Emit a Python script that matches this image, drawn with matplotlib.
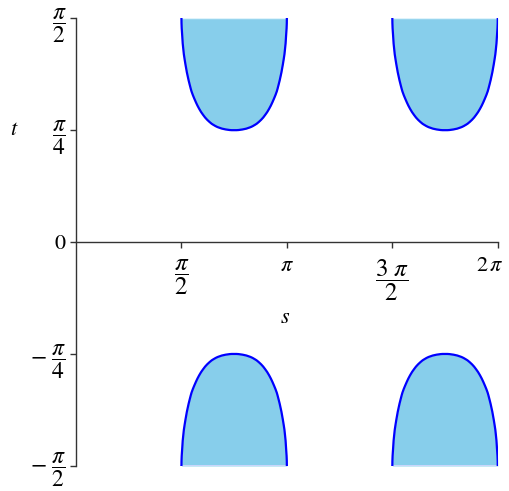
import matplotlib
matplotlib.use("Agg")
import matplotlib.pyplot as plt
import matplotlib.transforms as mtransforms
import numpy as np

plt.rcParams['mathtext.fontset'] = 'stix'
plt.rcParams['font.family'] = ['Liberation Serif', 'DejaVu Serif']

# ----------------------------
# Data: left half of one lobe of the boundary curve
# s from pi/2 to 3pi/4, the right half is its mirror image
# ----------------------------
half_s = [1.571, 1.572, 1.575, 1.583, 1.590, 1.599, 1.607, 1.618, 1.630, 1.652,
          1.678, 1.694, 1.710, 1.721, 1.741, 1.762, 1.787, 1.809, 1.835, 1.864,
          1.894, 1.923, 1.954, 1.988, 2.021, 2.041, 2.077, 2.098, 2.118, 2.143,
          2.173, 2.202, 2.231, 2.261, 2.290, 2.320, 2.356]
half_t = [1.571, 1.536, 1.500, 1.444, 1.393, 1.352, 1.317, 1.283, 1.248, 1.190,
          1.134, 1.104, 1.075, 1.057, 1.031, 1.007, 0.980, 0.958, 0.935, 0.912,
          0.892, 0.874, 0.858, 0.843, 0.830, 0.824, 0.814, 0.809, 0.805, 0.801,
          0.796, 0.793, 0.790, 0.788, 0.786, 0.785, 0.785]
lobe_shifts = [0.0, np.pi]   # second pair of lobes sits one period to the right

x_ticks = [np.pi / 2, np.pi, 3 * np.pi / 2, 2 * np.pi]
x_labels = [r'$\dfrac{\pi}{2}$', r'$\pi$', r'$\dfrac{3\ \pi}{2}$', r'$2\,\pi$']
y_ticks = [-np.pi / 2, -np.pi / 4, 0, np.pi / 4, np.pi / 2]
y_labels = [r'$-\ \dfrac{\pi}{2}$', r'$-\ \dfrac{\pi}{4}$', r'$0$',
            r'$\dfrac{\pi}{4}$', r'$\dfrac{\pi}{2}$']

fill_col = '#87CEEB'
line_col = '#0000FF'

# полная кривая одного "лепестка"
hs = np.array(half_s)
ht = np.array(half_t)
s0 = np.concatenate([hs, (1.5 * np.pi - hs)[::-1][1:]])
t0 = np.concatenate([ht, ht[::-1][1:]])

# ----------------------------
# Plot
# ----------------------------
fig = plt.figure(figsize=(5.10, 4.91), dpi=100)
ax = fig.add_axes([0.149, 0.051, 0.827, 0.912])

for sh in lobe_shifts:
    s = s0 + sh
    # upper lobe
    ax.fill_between(s, t0, np.pi / 2, color=fill_col, lw=0)
    ax.plot([s[0], s[-1]], [np.pi / 2, np.pi / 2], color='#dff3fb', lw=1)
    ax.plot(s, t0, color=line_col, lw=1.6, solid_joinstyle='round')
    # lower lobe
    ax.fill_between(s, -np.pi / 2, -t0, color=fill_col, lw=0)
    ax.plot([s[0], s[-1]], [-np.pi / 2, -np.pi / 2], color='#d8d8ff', lw=1.2)
    ax.plot(s, -t0, color=line_col, lw=1.6, solid_joinstyle='round')

ax.set_xlim(0, 2 * np.pi)
ax.set_ylim(-np.pi / 2, np.pi / 2)

for side in ['top', 'right']:
    ax.spines[side].set_visible(False)
ax.spines['bottom'].set_position(('data', 0))
ax.spines['left'].set_position(('data', 0))
for side in ['bottom', 'left']:
    ax.spines[side].set_color('#333333')
    ax.spines[side].set_linewidth(1.0)

ax.set_xticks(x_ticks)
ax.set_xticklabels(x_labels)
ax.set_yticks(y_ticks)
ax.set_yticklabels(y_labels)
for lab in ax.get_xticklabels():
    lab.set_fontsize(18 if 'frac' in lab.get_text() else 16)
for lab in ax.get_yticklabels():
    lab.set_fontsize(17 if 'frac' in lab.get_text() else 16)
ax.tick_params(axis='x', direction='out', length=4, width=1, color='#333333', pad=7)
ax.tick_params(axis='y', direction='out', length=4, width=1, color='#333333', pad=3)

# крайние подписи немного внутрь, чтобы не обрезались
xl = ax.get_xticklabels()[-1]
xl.set_transform(xl.get_transform() + mtransforms.ScaledTranslation(-6 / 72, 0, fig.dpi_scale_trans))
yl = ax.get_yticklabels()[0]
yl.set_transform(yl.get_transform() + mtransforms.ScaledTranslation(0, 3 / 72, fig.dpi_scale_trans))

fig.text(0.029, 0.735, r'$t$', fontsize=16, ha='center', va='center')
fig.text(0.559, 0.352, r'$s$', fontsize=16, ha='center', va='center')

plt.savefig("out.png", dpi=100)
